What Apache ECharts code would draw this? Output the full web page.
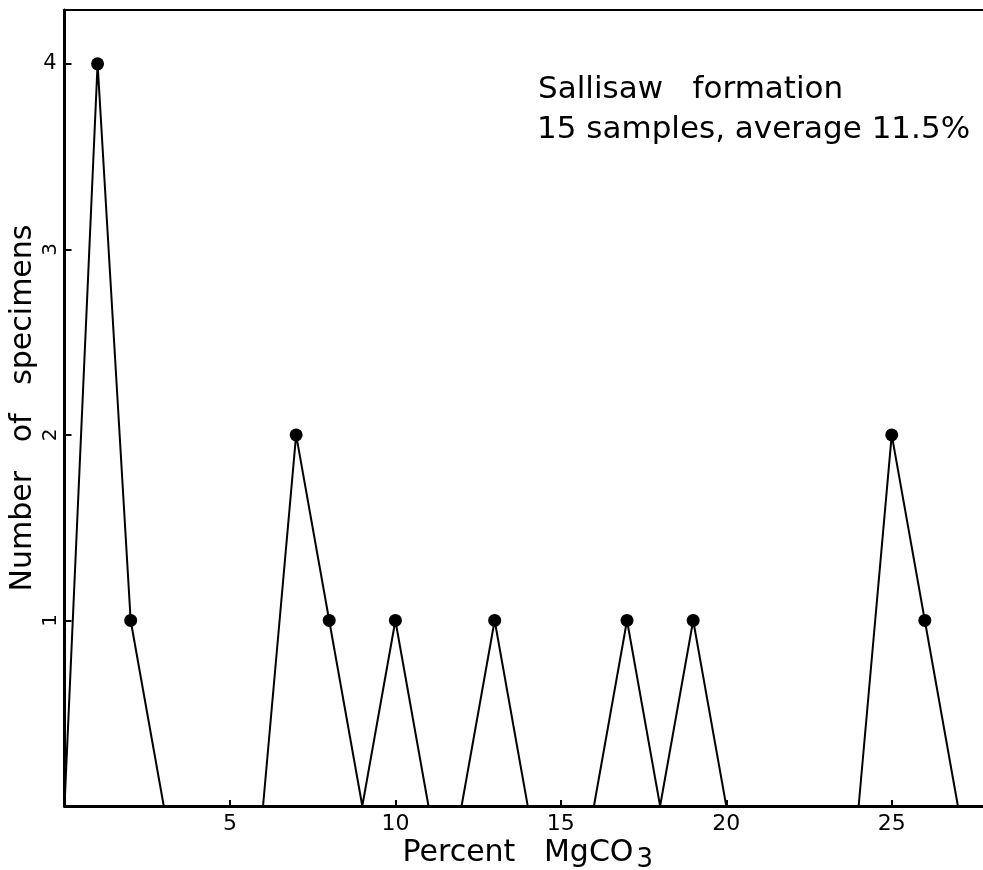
<!DOCTYPE html>
<html>
<head>
<meta charset="utf-8">
<script src="https://cdn.jsdelivr.net/npm/echarts@6/dist/echarts.min.js"></script>
<style>
html,body{margin:0;padding:0;background:#fff;}
#chart{width:983px;height:870px;}
</style>
</head>
<body>
<div id="chart"></div>
<script>
// Percent MgCO3 (x) and number of specimens (y); null separates drawn polygon pieces
const pctMgCO3   = [0, 1, 2, 3, null, 6, 7, 8, 9, 10, 11, null, 12, 13, 14, null, 16, 17, 18, 19, 20, null, 24, 25, 26, 27];
const specimens  = [0, 4, 1, 0, null, 0, 2, 1, 0, 1, 0, null, 0, 1, 0, null, 0, 1, 0, 1, 0, null, 0, 2, 1, 0];
const xTicks = [5, 10, 15, 20, 25];
const yTicksRotated = [1, 2, 3];
const yTicksUpright = [4];
const noteLine1 = 'Sallisaw   formation';
const noteLine2 = '15 samples, average 11.5%';

const FONT = '"DejaVu Sans", sans-serif';

// split into segments
const segments = [];
let cur = [];
for (let i = 0; i < pctMgCO3.length; i++) {
  if (pctMgCO3[i] === null) { if (cur.length) segments.push(cur); cur = []; continue; }
  cur.push(i);
}
if (cur.length) segments.push(cur);

const series = segments.map(idx => ({
  type: 'line',
  xAxisIndex: 0, yAxisIndex: 0,
  lineStyle: { color: '#000', width: 2 },
  itemStyle: { color: '#000' },
  symbol: 'circle',
  symbolSize: 13,
  animation: false,
  clip: false,
  data: idx.map(i => ({
    value: [pctMgCO3[i], specimens[i]],
    symbol: specimens[i] === 0 ? 'none' : 'circle'
  }))
}));

const chart = echarts.init(document.getElementById('chart'));
chart.setOption({
  animation: false,
  backgroundColor: '#fff',
  grid: {
    left: 64.5, right: -8, top: 10, bottom: 64,
    outerBoundsMode: 'none', containLabel: false,
    show: true, borderColor: '#000', borderWidth: 2, backgroundColor: 'transparent'
  },
  xAxis: {
    type: 'value', min: 0, max: 28, interval: 5,
    name: '{n|Percent   MgCO}{s|3}',
    nameLocation: 'middle', nameGap: 27, nameMoveOverlap: false,
    nameTextStyle: {
      rich: {
        n: { fontFamily: FONT, fontSize: 30, color: '#000' },
        s: { fontFamily: FONT, fontSize: 26, color: '#000', padding: [14, 0, 0, 3] }
      }
    },
    axisLine: { lineStyle: { color: '#000', width: 3 } },
    axisTick: { inside: true, length: 6, lineStyle: { color: '#000', width: 2 } },
    axisLabel: {
      fontFamily: FONT, fontSize: 22, color: '#000', margin: 7,
      formatter: v => xTicks.includes(v) ? String(v) : ''
    },
    splitLine: { show: false }
  },
  yAxis: [{
    type: 'value', min: 0, max: 4.29, interval: 1,
    name: 'Number   of   specimens',
    nameLocation: 'middle', nameGap: 26, nameMoveOverlap: false,
    nameTextStyle: { fontFamily: FONT, fontSize: 30, color: '#000' },
    axisLine: { lineStyle: { color: '#000', width: 3 } },
    axisTick: { inside: true, length: 7, lineStyle: { color: '#000', width: 2 } },
    axisLabel: {
      fontFamily: FONT, fontSize: 20, color: '#000', margin: 4, rotate: 90,
      showMaxLabel: false,
      formatter: v => yTicksRotated.includes(v) ? String(v) : ''
    },
    splitLine: { show: false }
  }, {
    type: 'value', min: 0, max: 4.29, interval: 1, position: 'left',
    axisLine: { show: false }, axisTick: { show: false },
    axisLabel: {
      fontFamily: FONT, fontSize: 21, color: '#000', margin: 8,
      showMaxLabel: false,
      formatter: v => yTicksUpright.includes(v) ? String(v) : ''
    },
    splitLine: { show: false }
  }],
  graphic: [{
    type: 'text', left: 538, top: 74,
    style: { text: noteLine1, fontFamily: FONT, fontSize: 31, fill: '#000' }
  }, {
    type: 'text', left: 537, top: 114,
    style: { text: noteLine2, fontFamily: FONT, fontSize: 31, fill: '#000' }
  }],
  series: series
});
</script>
</body>
</html>
